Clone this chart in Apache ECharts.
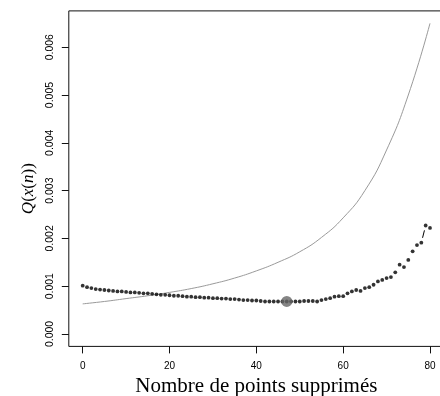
<!DOCTYPE html>
<html lang="fr">
<head>
<meta charset="UTF-8">
<title>Q(x(n))</title>
<script src="https://cdn.jsdelivr.net/npm/echarts@6/dist/echarts.min.js"></script>
<style>
html, body { margin: 0; padding: 0; background: #fff; }
#chart { width: 440px; height: 396px; }
</style>
</head>
<body>
<div id="chart"></div>
<script>
// valeurs de Q(x(n)) pour n = 0..80 (points noirs)
const qValues = [
0.00101, 0.00098, 0.00096, 0.00094, 0.00093, 0.00092, 0.00091, 0.00090, 0.00089, 0.00089,
0.00088, 0.00087, 0.00087, 0.00086, 0.00085, 0.00085, 0.00084, 0.00083, 0.00082, 0.00082,
0.00081, 0.00080, 0.00080, 0.00079, 0.00078, 0.00078, 0.00077, 0.00077, 0.00076, 0.00076,
0.00075, 0.00075, 0.00074, 0.00074, 0.00073, 0.00073, 0.00072, 0.00071, 0.00071, 0.00070,
0.00070, 0.00069, 0.00068, 0.00068, 0.00068, 0.00068, 0.00068, 0.00068, 0.00068, 0.00068,
0.00068, 0.00069, 0.00069, 0.00069, 0.00068, 0.00071, 0.00073, 0.00075, 0.00078, 0.00079,
0.00079, 0.00085, 0.00089, 0.00092, 0.00090, 0.00096, 0.00098, 0.00103, 0.00110, 0.00113,
0.00117, 0.00119, 0.00129, 0.00145, 0.00140, 0.00155, 0.00173, 0.00186, 0.00191, 0.00227,
0.00222
];

// courbe grise
const curveX = [0, 5, 10, 15, 20, 25, 30, 35, 40, 45, 50, 55, 60, 65, 70, 75, 80];
const curveY = [0.00063, 0.00068, 0.00074, 0.00080, 0.00087, 0.00095, 0.00105, 0.00117, 0.00132,
  0.00150, 0.00172, 0.00202, 0.00243, 0.00300, 0.00385, 0.00500, 0.00650];

// point optimal
const bestN = 47;
const bestQ = 0.00068;

const xTicks = [0, 20, 40, 60, 80];
const yTicks = [0, 0.001, 0.002, 0.003, 0.004, 0.005, 0.006];

const chart = echarts.init(document.getElementById('chart'));

// segments façon type="b" de R : lignes coupées autour de chaque point
const GAP = 5;
function renderSegment(params, api) {
const n = params.dataIndex;
if (n >= qValues.length - 1) return null;
const p1 = api.coord([n, qValues[n]]);
const p2 = api.coord([n + 1, qValues[n + 1]]);
const dx = p2[0] - p1[0], dy = p2[1] - p1[1];
const d = Math.sqrt(dx * dx + dy * dy);
if (d <= 2 * GAP) return null;
const ux = dx / d, uy = dy / d;
return {
type: 'line',
shape: {
x1: p1[0] + ux * GAP, y1: p1[1] + uy * GAP,
x2: p2[0] - ux * GAP, y2: p2[1] - uy * GAP
},
style: { stroke: '#000', lineWidth: 1 }
};
}

const option = {
animation: false,
backgroundColor: '#fff',
grid: {
left: 68.8,
top: 10.9,
right: -3.9,
bottom: 49.6,
outerBoundsMode: 'none',
show: true,
borderColor: '#111',
borderWidth: 1,
backgroundColor: 'transparent'
},
xAxis: {
type: 'value',
min: -3.2,
max: 83.2,
name: 'Nombre de points supprimés',
nameLocation: 'middle',
nameGap: 28,
nameTextStyle: {
fontFamily: 'Liberation Serif',
fontSize: 21,
color: '#000'
},
axisLine: { show: false, onZero: false },
splitLine: { show: false },
axisTick: {
show: true,
inside: false,
length: 7,
customValues: xTicks,
lineStyle: { color: '#111' }
},
axisLabel: {
customValues: xTicks,
margin: 15,
fontFamily: 'Liberation Sans',
fontSize: 10,
color: '#000'
}
},
yAxis: {
type: 'value',
min: -0.00026,
max: 0.00676,
name: '{i|Q}{r|(}{i|x}{r|(}{i|n}{r|))}',
nameLocation: 'middle',
nameGap: 32,
nameRotate: 90,
nameTextStyle: {
padding: [0, 20, 0, 0],
rich: {
i: { fontFamily: 'Liberation Serif', fontStyle: 'italic', fontSize: 17, color: '#000' },
r: { fontFamily: 'Liberation Serif', fontSize: 17, color: '#000' }
}
},
axisLine: { show: false, onZero: false },
splitLine: { show: false },
axisTick: {
show: true,
inside: false,
length: 7,
customValues: yTicks,
lineStyle: { color: '#111' }
},
axisLabel: {
customValues: yTicks,
rotate: 90,
margin: 13,
fontFamily: 'Liberation Sans',
fontSize: 10.5,
color: '#000',
formatter: v => v.toFixed(3)
}
},
series: [{
name: 'courbe',
type: 'line',
data: curveX.map((x, i) => [x, curveY[i]]),
smooth: true,
symbol: 'none',
lineStyle: { color: '#9a9a9a', width: 1 },
z: 2
},
{
name: 'segments',
type: 'custom',
data: qValues.map((q, n) => [n, q]),
renderItem: renderSegment,
z: 3
},
{
name: 'Q',
type: 'scatter',
data: qValues.map((q, n) => [n, q]),
symbol: 'circle',
symbolSize: 3.8,
itemStyle: { color: '#000' },
z: 3
},
{
name: 'optimum',
type: 'scatter',
data: [[bestN, bestQ]],
symbol: 'circle',
symbolSize: 11,
itemStyle: { color: '#666' },
z: 4
}]
};

chart.setOption(option);
window.addEventListener('resize', () => {
chart.resize();
});
</script>
</body>
</html>
